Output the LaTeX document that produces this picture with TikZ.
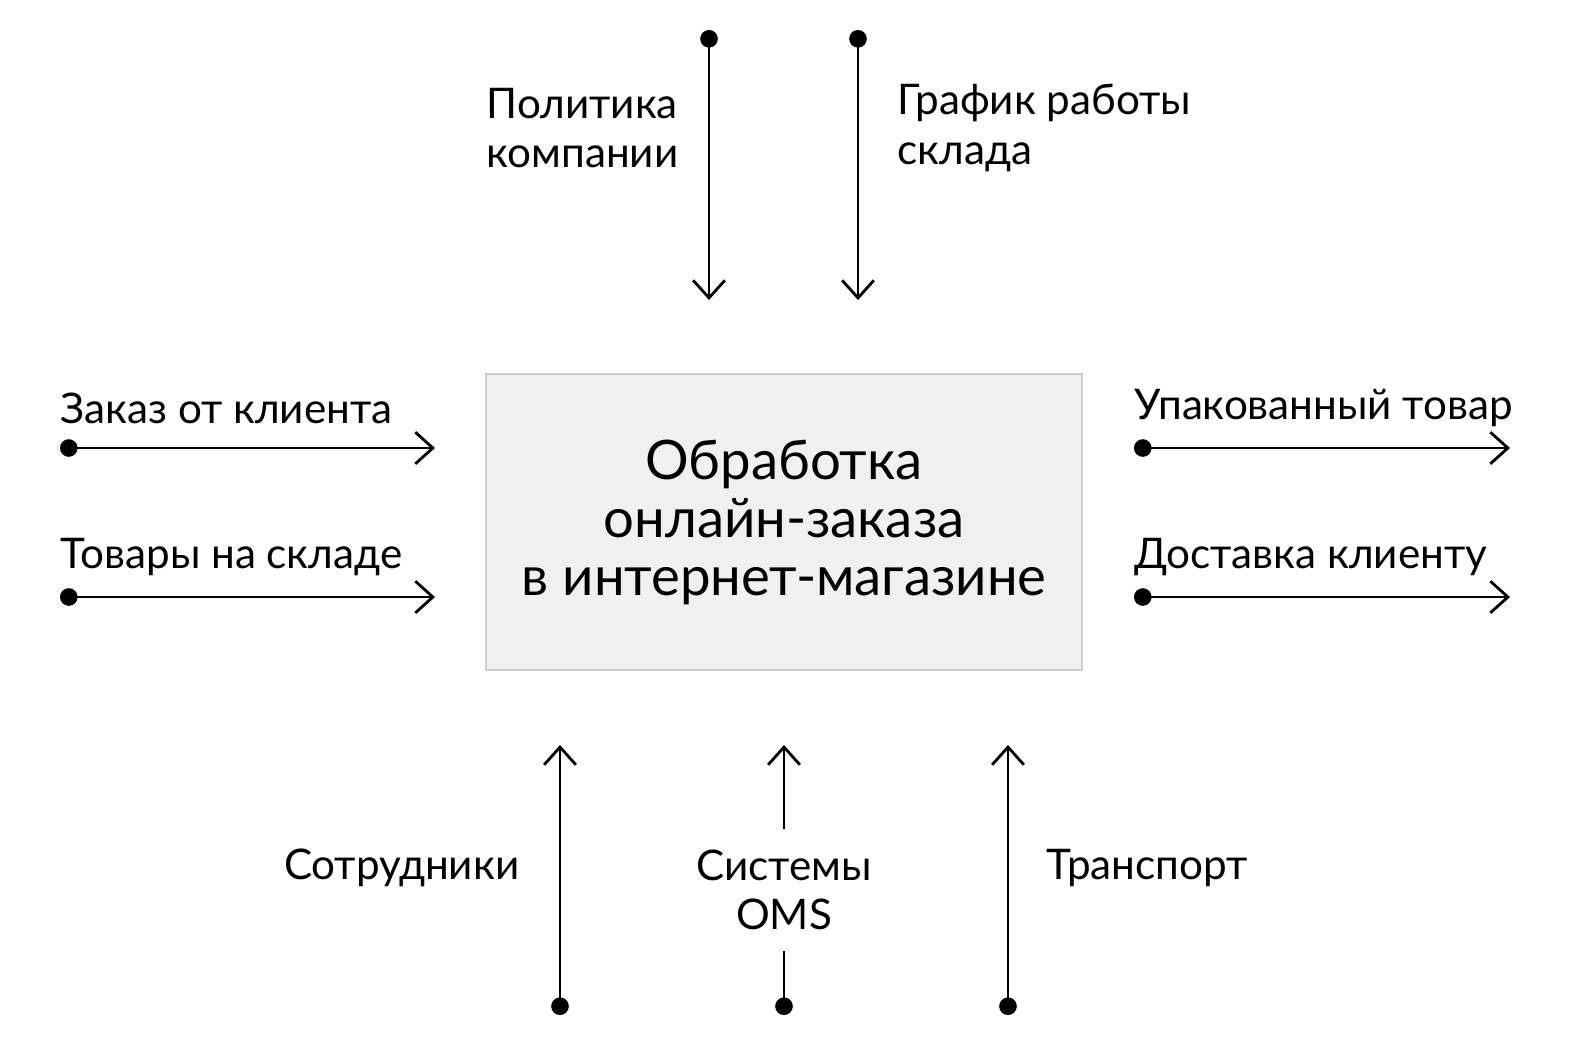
\documentclass[tikz,border=0pt]{standalone}
\usepackage{fontspec}
\setmainfont{Lato}
\usetikzlibrary{positioning}
\usetikzlibrary{arrows.meta}
\tikzset{
  flow/.style={line width=0.8pt, {Circle[length=5pt]}-{Straight Barb[length=5pt,width=9pt]}},
  label text/.style={font=\fontsize{12}{14}\selectfont, inner sep=0pt, align=left},
  process box/.style={draw=black!20, fill=black!6, minimum width=5.96cm, minimum height=2.96cm,
    font=\fontsize{15.5}{16.5}\selectfont, align=center},
}
\begin{document}
\begin{tikzpicture}[x=0.01cm, y=-0.01cm]
  \useasboundingbox (0,0) rectangle (1575,1050);

  % Main process
  \node[process box] (proc) at (784,522) {Обработка\\онлайн-заказа\\в интернет-магазине};

  % End points
  \coordinate (pol_s) at (709,30);  \coordinate (pol_e) at (709,300);
  \coordinate (gr_s)  at (858,30);  \coordinate (gr_e)  at (858,300);
  \coordinate (ord_s) at (60,448);  \coordinate (ord_e) at (435,448);
  \coordinate (stk_s) at (60,597);  \coordinate (stk_e) at (435,597);
  \coordinate (pck_s) at (1134,448); \coordinate (pck_e) at (1510,448);
  \coordinate (dlv_s) at (1134,597); \coordinate (dlv_e) at (1510,597);
  \coordinate (emp_s) at (560,1015); \coordinate (emp_e) at (560,745);
  \coordinate (trn_s) at (1008,1015); \coordinate (trn_e) at (1008,745);
  \coordinate (oms_s) at (784,1015); \coordinate (oms_e) at (784,745);

  % Labels
  \node[label text, anchor=west] (pol) at (486,128) {Политика\\компании};
  \node[label text, anchor=west] (gr) at (897,128) {График работы\\склада};
  \node[label text, anchor=west] (ord) at (60,408) {Заказ от клиента};
  \node[label text, anchor=west] (stk) at (60,557) {Товары на складе};
  \node[label text, anchor=west] (pck) at (1134,408) {Упакованный товар};
  \node[label text, anchor=west] (dlv) at (1134,557) {Доставка клиенту};
  \node[label text, anchor=east] (emp) at (520,868) {Сотрудники};
  \node[label text, align=center, fill=white, inner sep=6pt] (oms) at (784,890) {Системы\\OMS};
  \node[label text, anchor=west] (trn) at (1046,868) {Транспорт};

  % Arrows
  \draw[flow] (pol_s) -- (pol_e);
  \draw[flow] (gr_s) -- (gr_e);
  \draw[flow] (ord_s) -- (ord_e);
  \draw[flow] (stk_s) -- (stk_e);
  \draw[flow] (pck_s) -- (pck_e);
  \draw[flow] (dlv_s) -- (dlv_e);
  \draw[flow] (emp_s) -- (emp_e);
  \draw[flow] (trn_s) -- (trn_e);
  \draw[flow] (oms_s) -- (oms_e);
  \node[label text, align=center, fill=white, inner sep=6pt] at (oms) {Системы\\OMS};
\end{tikzpicture}
\end{document}
